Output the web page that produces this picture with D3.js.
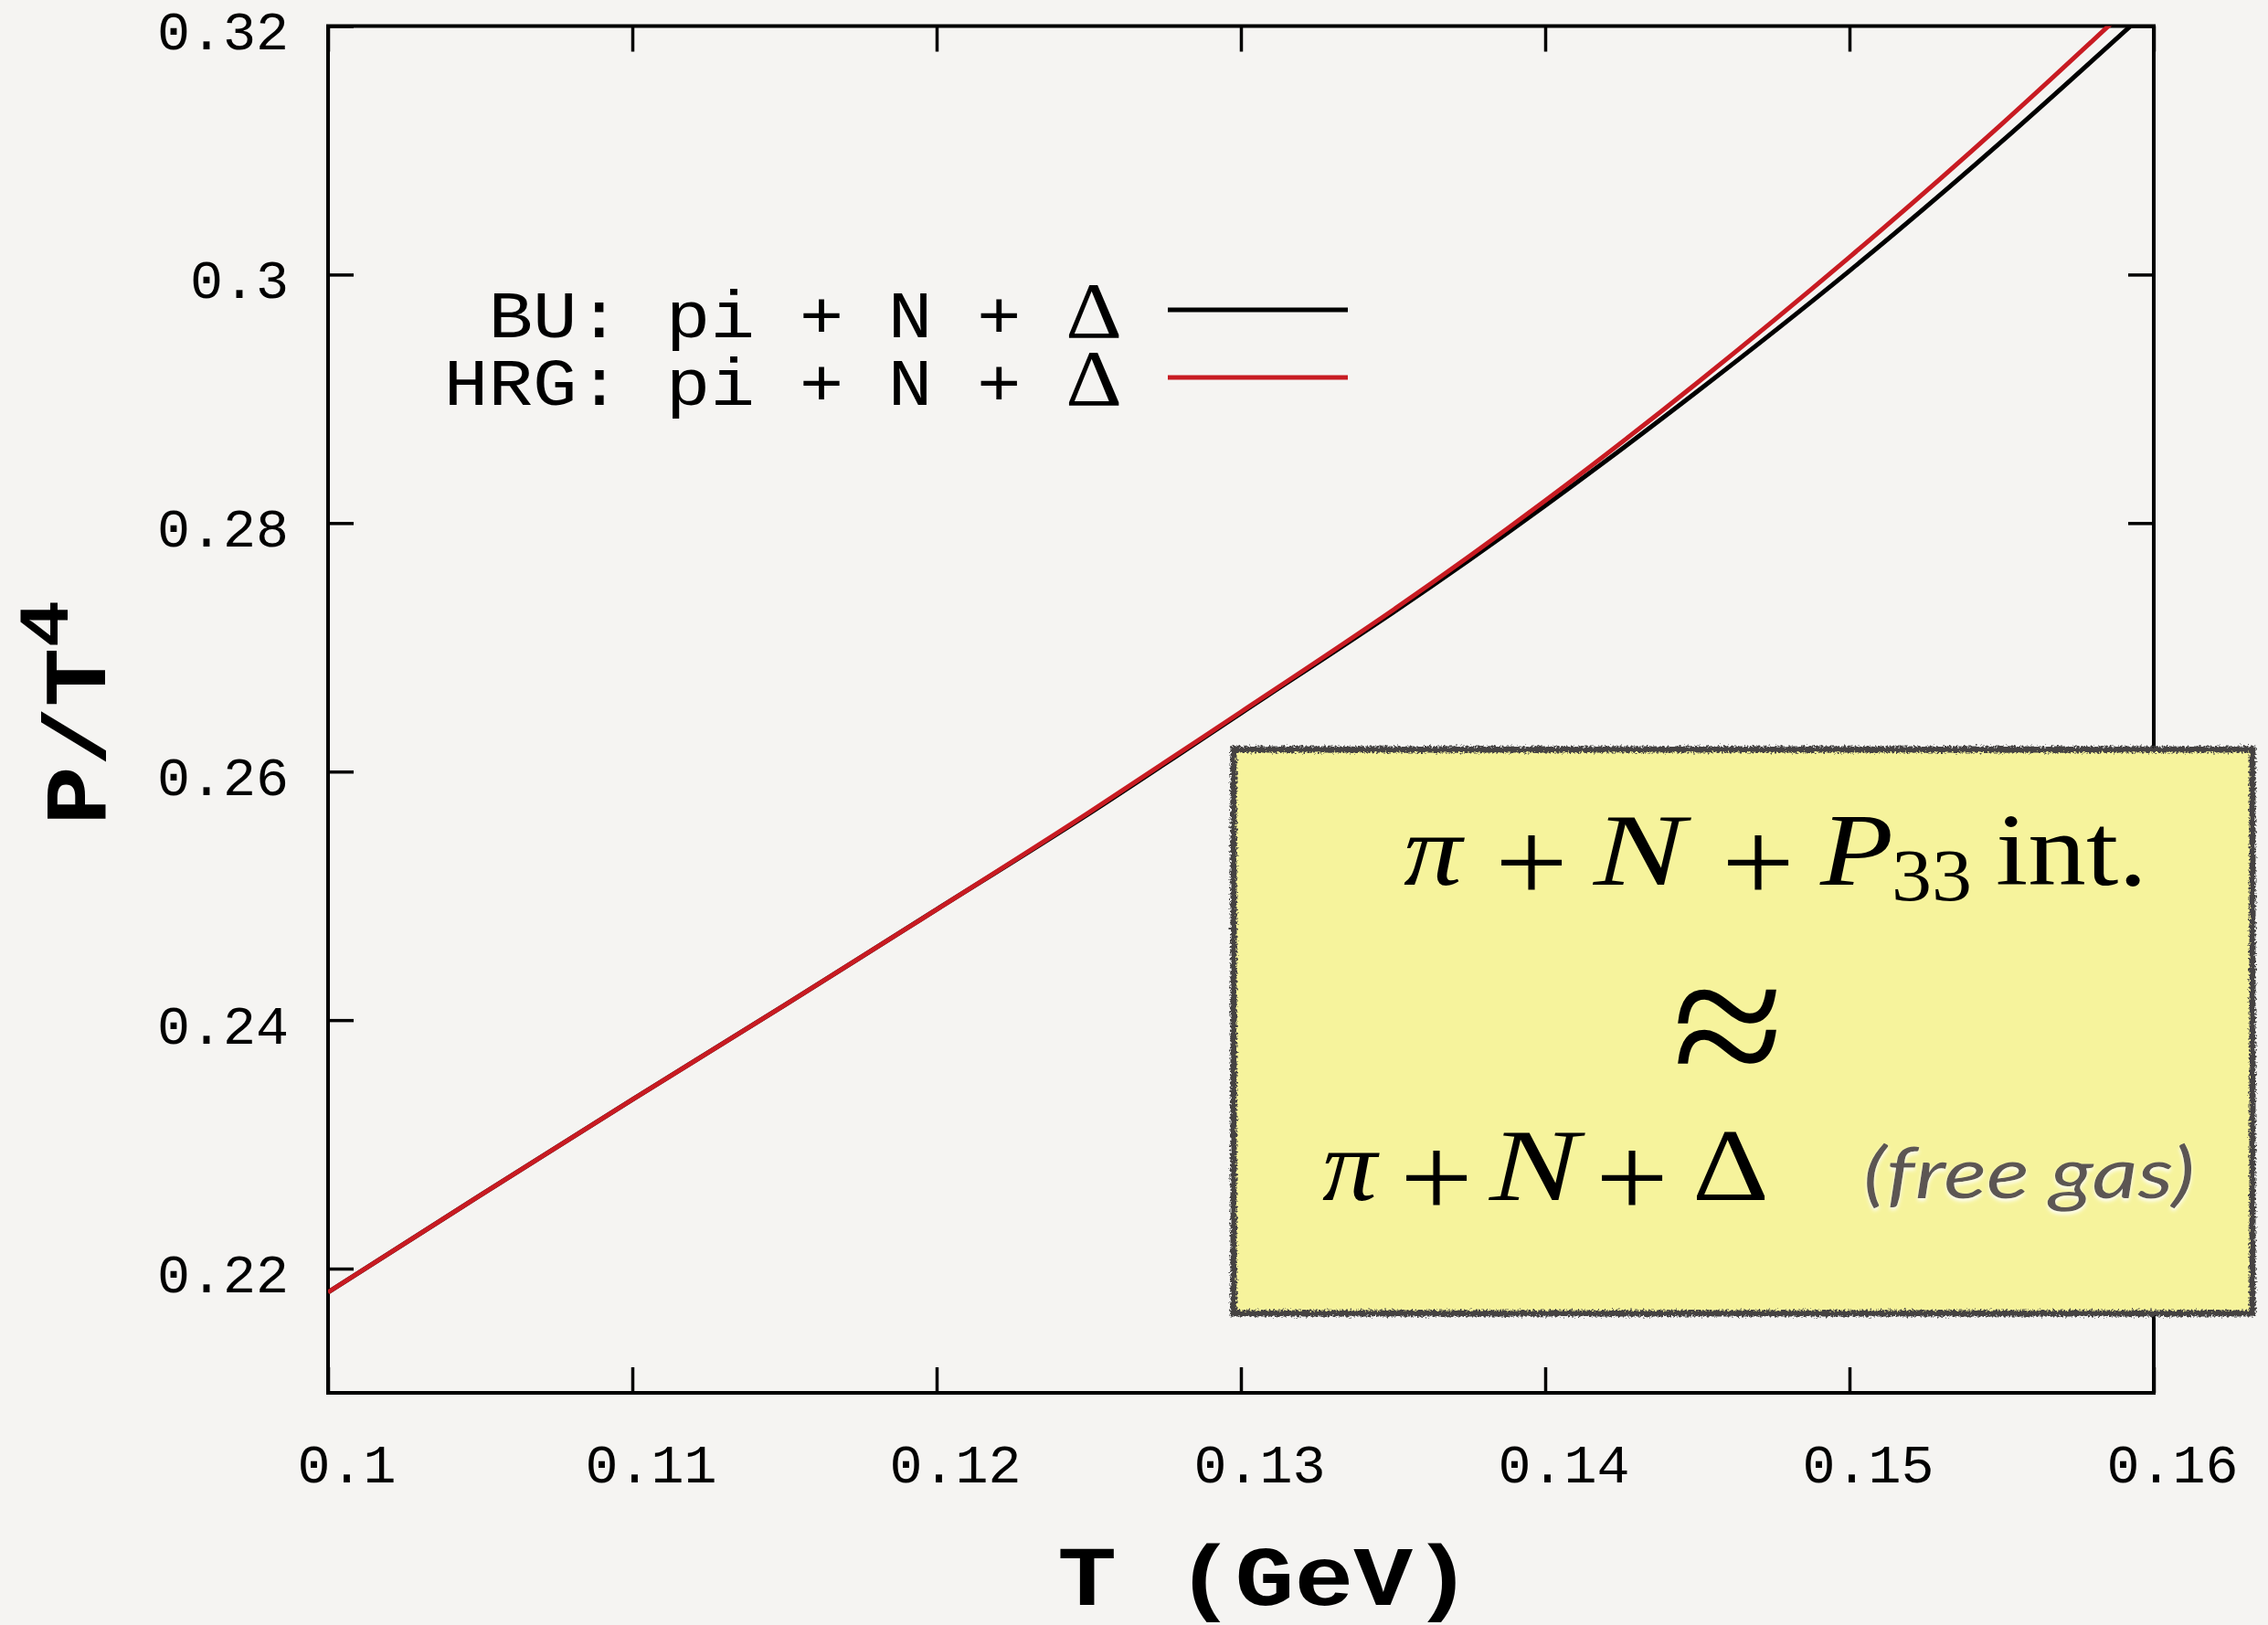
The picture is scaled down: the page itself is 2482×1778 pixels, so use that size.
<!DOCTYPE html>
<html>
<head>
<meta charset="utf-8">
<script src="https://cdn.jsdelivr.net/npm/d3@7"></script>
<style>
  html, body { margin: 0; padding: 0; background: #f5f4f2; }
  svg { display: block; }
</style>
</head>
<body>
<svg id="chart" width="2482" height="1778"></svg>
<script>
// Temperature grid (GeV) and the two pressure curves P/T^4
const temperatures = [0.100, 0.105, 0.110, 0.115, 0.120, 0.125, 0.130, 0.135, 0.140, 0.145, 0.150, 0.155, 0.160];
const pressureBU   = [0.2181, 0.2259, 0.2336, 0.2412, 0.2489, 0.2566, 0.2647, 0.2728, 0.2814, 0.2906, 0.3003, 0.3107, 0.3217];
const pressureHRG  = [0.2181, 0.2259, 0.2336, 0.2412, 0.2489, 0.2567, 0.2648, 0.2730, 0.2818, 0.2913, 0.3014, 0.3121, 0.3234];

const seriesNames  = ["BU: pi + N + ", "HRG: pi + N + "];
const seriesColors = ["#000000", "#c81b22"];

const xTickValues = [0.10, 0.11, 0.12, 0.13, 0.14, 0.15, 0.16];
const xTickLabels = ["0.1", "0.11", "0.12", "0.13", "0.14", "0.15", "0.16"];
const yTickValues = [0.22, 0.24, 0.26, 0.28, 0.30, 0.32];
const yTickLabels = ["0.22", "0.24", "0.26", "0.28", "0.3", "0.32"];

const svg = d3.select("#chart");
const W = 2482, H = 1778;
const plot = { left: 359, right: 2357, top: 28.5, bottom: 1524 };
const mono = "'Nimbus Mono PS', 'Nimbus Mono L', 'Liberation Mono', 'DejaVu Sans Mono', monospace";
const serif = "'Liberation Serif', 'DejaVu Serif', serif";

svg.append("rect").attr("width", W).attr("height", H).attr("fill", "#f5f4f2");

const defs = svg.append("defs");
defs.append("clipPath").attr("id", "plotClip")
  .append("rect")
  .attr("x", plot.left).attr("y", plot.top)
  .attr("width", plot.right - plot.left).attr("height", plot.bottom - plot.top);

// sketchy outline for the note box
const rough = defs.append("filter").attr("id", "rough")
  .attr("x", "-3%").attr("y", "-3%").attr("width", "106%").attr("height", "106%");
rough.append("feTurbulence").attr("type", "fractalNoise").attr("baseFrequency", 0.45)
  .attr("numOctaves", 2).attr("seed", 7).attr("result", "noise");
rough.append("feDisplacementMap").attr("in", "SourceGraphic").attr("in2", "noise")
  .attr("scale", 7).attr("xChannelSelector", "R").attr("yChannelSelector", "G");

// soft light halo under the gray caption
const glow = defs.append("filter").attr("id", "glow")
  .attr("x", "-10%").attr("y", "-20%").attr("width", "120%").attr("height", "150%");
glow.append("feDropShadow").attr("dx", 0).attr("dy", 3).attr("stdDeviation", 2)
  .attr("flood-color", "#ffffff").attr("flood-opacity", 0.9);

const x = d3.scaleLinear().domain([0.10, 0.16]).range([plot.left, plot.right]);
const y = d3.scaleLinear().domain([0.21, 0.32]).range([plot.bottom, plot.top]);

const tickLen = 28;

// bottom axis with labels
const gx = svg.append("g").attr("transform", `translate(0,${plot.bottom})`)
  .call(d3.axisBottom(x).tickValues(xTickValues).tickSizeInner(-tickLen).tickSizeOuter(0)
    .tickFormat((d, i) => xTickLabels[i]));
gx.selectAll("text")
  .attr("y", 98).attr("dy", 0).attr("x", 20)
  .attr("font-family", mono).attr("font-size", 60).attr("fill", "#000");

// left axis with labels
const gy = svg.append("g").attr("transform", `translate(${plot.left},0)`)
  .call(d3.axisLeft(y).tickValues(yTickValues).tickSizeInner(-tickLen).tickSizeOuter(0)
    .tickFormat((d, i) => yTickLabels[i]));
gy.selectAll("text")
  .attr("x", -43).attr("dy", 0).attr("y", 25)
  .attr("font-family", mono).attr("font-size", 60).attr("fill", "#000");

// mirrored ticks on top and right
svg.append("g").attr("transform", `translate(0,${plot.top})`)
  .call(d3.axisTop(x).tickValues(xTickValues).tickSizeInner(-tickLen).tickSizeOuter(0).tickFormat(""));
svg.append("g").attr("transform", `translate(${plot.right},0)`)
  .call(d3.axisRight(y).tickValues(yTickValues).tickSizeInner(-tickLen).tickSizeOuter(0).tickFormat(""));

svg.selectAll(".domain").remove();
svg.selectAll(".tick line").attr("stroke", "#000").attr("stroke-width", 3.5);

// frame
svg.append("rect")
  .attr("x", plot.left).attr("y", plot.top)
  .attr("width", plot.right - plot.left).attr("height", plot.bottom - plot.top)
  .attr("fill", "none").attr("stroke", "#000").attr("stroke-width", 4);

// curves
const series = [pressureBU, pressureHRG].map((vals, k) => ({
  name: seriesNames[k], color: seriesColors[k],
  points: temperatures.map((t, i) => ({ t, p: vals[i] }))
}));
const line = d3.line().x(d => x(d.t)).y(d => y(d.p)).curve(d3.curveNatural);
svg.append("g").attr("clip-path", "url(#plotClip)")
  .selectAll("path").data(series).join("path")
  .attr("d", d => line(d.points))
  .attr("fill", "none").attr("stroke", d => d.color).attr("stroke-width", 5)
  .attr("stroke-linejoin", "round");

// legend (glyphs slightly compressed vertically)
const legend = svg.append("g");
series.forEach((s, k) => {
  const base = 369 + k * 74;
  const t = legend.append("text")
    .attr("transform", `translate(1228,${base}) scale(1,0.9)`)
    .attr("text-anchor", "end")
    .attr("font-family", mono).attr("font-size", 81).attr("fill", "#000");
  t.append("tspan").text(s.name);
  t.append("tspan").attr("font-family", serif).attr("font-size", 96).text("Δ");
  legend.append("line")
    .attr("x1", 1278).attr("x2", 1475).attr("y1", base - 30).attr("y2", base - 30)
    .attr("stroke", s.color).attr("stroke-width", 5);
});

// axis titles
svg.append("text")
  .attr("transform", "translate(1384,1756) scale(1,0.86)")
  .attr("text-anchor", "middle")
  .attr("font-family", mono).attr("font-weight", "bold").attr("font-size", 108)
  .attr("fill", "#000").text("T (GeV)");

const yt = svg.append("text")
  .attr("transform", "translate(115,903) rotate(-90) scale(1,0.9)")
  .attr("font-family", mono).attr("font-weight", "bold").attr("font-size", 108)
  .attr("fill", "#000");
yt.append("tspan").text("P/T");
yt.append("tspan").attr("font-size", 86).attr("dy", -46).text("4");

// note box
const box = { x: 1350, y: 820, w: 1115, h: 617 };
svg.append("rect").attr("x", box.x).attr("y", box.y).attr("width", box.w).attr("height", box.h)
  .attr("fill", "#f6f39c");
svg.append("rect").attr("x", box.x).attr("y", box.y).attr("width", box.w).attr("height", box.h)
  .attr("fill", "none").attr("stroke", "#444242").attr("stroke-width", 7)
  .attr("filter", "url(#rough)");

// each formula piece gets its own left edge and width
function mathLine(baseline, pieces) {
  const g = svg.append("g").attr("fill", "#000").attr("font-family", serif);
  pieces.forEach(p => {
    const t = g.append("text")
      .attr("x", p.x).attr("y", baseline + (p.dy || 0))
      .attr("font-size", p.size)
      .attr("textLength", p.w).attr("lengthAdjust", "spacingAndGlyphs")
      .text(p.text);
    if (p.italic) t.attr("font-style", "italic");
  });
}

mathLine(968, [
  { text: "π",    x: 1536, w: 64,  size: 112, italic: true },
  { text: "+",    x: 1636, w: 80,  size: 126, dy: 18 },
  { text: "N",    x: 1744, w: 100, size: 112, italic: true },
  { text: "+",    x: 1884, w: 80,  size: 126, dy: 18 },
  { text: "P",    x: 1992, w: 80,  size: 112, italic: true },
  { text: "33",   x: 2070, w: 88,  size: 80,  dy: 17 },
  { text: "int.", x: 2184, w: 166, size: 112 }
]);

svg.append("text")
  .attr("x", 1830).attr("y", 1196)
  .attr("font-family", serif).attr("font-size", 220).attr("fill", "#000")
  .attr("textLength", 122).attr("lengthAdjust", "spacingAndGlyphs")
  .text("≈");

mathLine(1313, [
  { text: "π", x: 1447, w: 60,  size: 112, italic: true },
  { text: "+", x: 1532, w: 80,  size: 126, dy: 18 },
  { text: "N", x: 1630, w: 98,  size: 112, italic: true },
  { text: "+", x: 1746, w: 80,  size: 126, dy: 18 },
  { text: "Δ", x: 1852, w: 84,  size: 112 }
]);

svg.append("text")
  .attr("x", 2039).attr("y", 1311)
  .attr("font-family", "Lato, 'Open Sans', sans-serif").attr("font-style", "italic")
  .attr("font-size", 78).attr("fill", "#5c5752")
  .attr("textLength", 363).attr("lengthAdjust", "spacingAndGlyphs")
  .attr("filter", "url(#glow)")
  .text("(free gas)");
</script>
</body>
</html>
